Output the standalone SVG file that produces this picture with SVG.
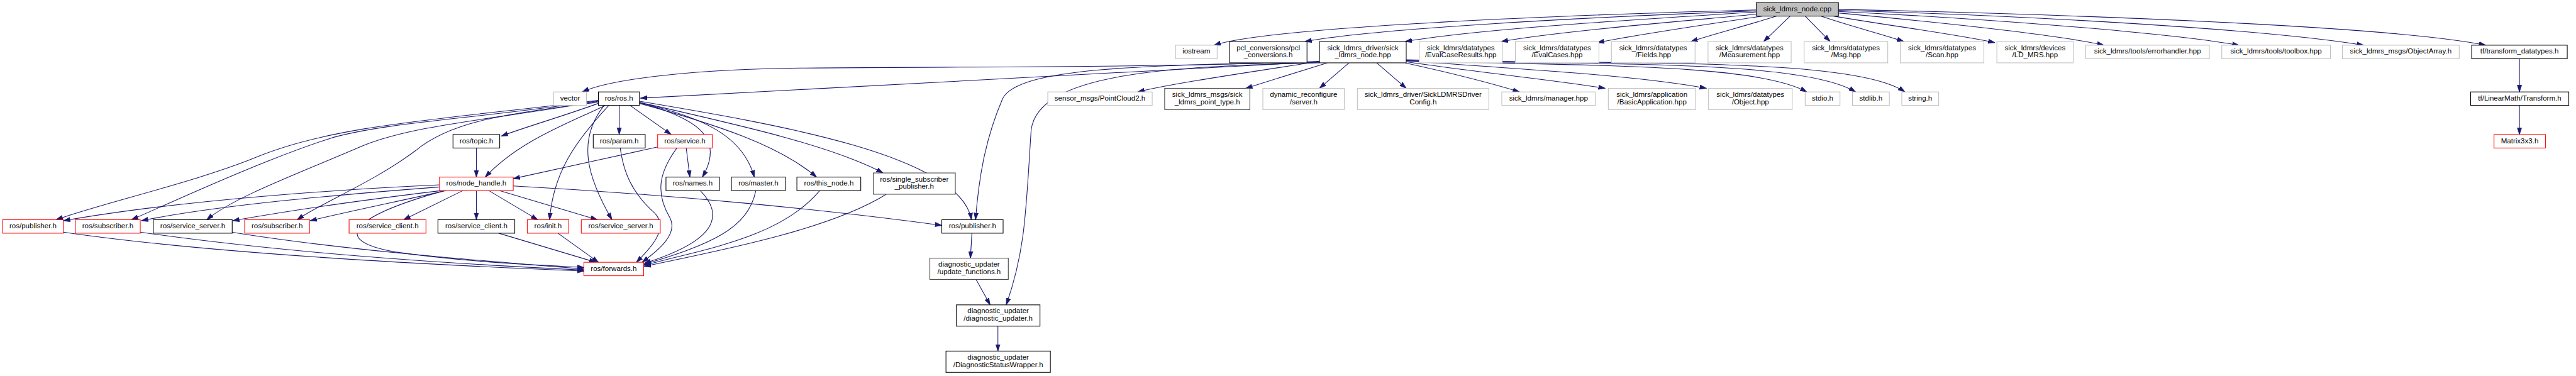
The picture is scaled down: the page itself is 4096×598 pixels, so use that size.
<svg xmlns="http://www.w3.org/2000/svg" width="4096" height="598" viewBox="0 0 4096 598">
<style>
.n rect{fill:#fff;stroke-width:1.3}
.k rect{stroke:#000}
.g rect{stroke:#bfbfbf}
.r rect{stroke:#ff0000}
.d rect{stroke:#404040}
.root rect{fill:#bfbfbf;stroke:#000}
text{font-family:"Liberation Sans",Arial,Helvetica,sans-serif;font-size:14px;text-anchor:middle;fill:#000}
#edges path{fill:none;stroke:#191970;stroke-width:1.3;marker-end:url(#a)}
</style>
<defs>
<marker id="a" markerWidth="14" markerHeight="10" refX="13" refY="5" orient="auto" markerUnits="userSpaceOnUse">
<path d="M0,0.8 L13,5 L0,9.2 z" fill="#191970" stroke="#191970" stroke-width="1"/>
</marker>
</defs>
<rect x="0" y="0" width="4096" height="598" fill="#fff"/>
<g transform="scale(0.826)">
<g id="edges">
<path d="M3381,19 C3050,28 2450,50 2337,87"/>
<path d="M3381,21 C3050,33 2650,55 2512,80"/>
<path d="M3381,23 C3150,38 2850,55 2705,80"/>
<path d="M3385,27 C3250,40 3000,60 2890,80"/>
<path d="M3392,31 C3300,45 3160,65 3075,82"/>
<path d="M3420,31 C3360,50 3300,65 3255,80"/>
<path d="M3446,31 L3395,80"/>
<path d="M3475,31 L3523,80"/>
<path d="M3505,31 C3560,50 3620,65 3665,80"/>
<path d="M3530,31 C3640,50 3760,65 3840,82"/>
<path d="M3539,25 C3700,40 3950,65 4050,87"/>
<path d="M3539,22 C3800,35 4150,60 4310,87"/>
<path d="M3539,20 C3900,30 4350,55 4550,87"/>
<path d="M3539,18 C4000,28 4600,50 4785,87"/>
<path d="M2540,118 C2400,140 2260,160 2190,177"/>
<path d="M2555,121 L2398,170"/>
<path d="M2597,121 L2540,170"/>
<path d="M2650,121 L2707,170"/>
<path d="M2705,121 C2790,140 2870,160 2925,177"/>
<path d="M2707,119 C2850,140 3000,155 3090,170"/>
<path d="M2707,117 C2950,135 3150,145 3285,170"/>
<path d="M2707,117 C3050,127 3380,122 3478,177"/>
<path d="M2707,116 C3100,126 3470,115 3572,177"/>
<path d="M2707,115 C3150,125 3570,110 3667,177"/>
<path d="M2540,118 C2250,130 1900,128 1550,131 C1350,133 1180,150 1121,177"/>
<path d="M2540,119 L1233,189"/>
<path d="M2540,120 C2200,125 1960,130 1930,190 C1900,260 1885,330 1878,423"/>
<path d="M2540,121 C2250,128 2000,140 1985,250 C1975,400 1975,480 1937,587"/>
<path d="M1152,199 C1080,225 1010,245 965,262"/>
<path d="M1165,203 C1100,235 1000,270 934,341"/>
<path d="M1192,203 L1192,259"/>
<path d="M1213,203 L1292,259"/>
<path d="M1231,197 C1330,225 1400,260 1352,341"/>
<path d="M1231,198 C1350,225 1430,260 1452,341"/>
<path d="M1231,199 C1380,240 1500,280 1572,341"/>
<path d="M1231,197 C1420,240 1600,280 1700,333"/>
<path d="M1231,195 C1500,240 1850,300 1870,423"/>
<path d="M1172,203 C1110,270 1065,330 1058,423"/>
<path d="M1163,203 C1110,270 1130,340 1178,423"/>
<path d="M1152,193 C850,230 650,240 500,300 C380,350 200,390 108,423"/>
<path d="M1152,194 C900,230 750,235 640,265 C500,310 330,390 253,423"/>
<path d="M1152,195 C950,230 800,240 700,280 C560,340 450,380 398,423"/>
<path d="M1152,197 C950,220 860,240 800,290 C720,350 620,390 572,423"/>
<path d="M1266,283 L988,344"/>
<path d="M1321,285 L1328,341"/>
<path d="M1303,285 C1270,330 1260,370 1290,420 C1305,450 1270,480 1236,505"/>
<path d="M1194,285 C1200,330 1215,370 1260,410 C1290,440 1250,480 1225,505"/>
<path d="M1348,367 C1390,410 1390,460 1240,507"/>
<path d="M1455,367 C1440,440 1370,470 1240,509"/>
<path d="M1578,367 C1500,460 1350,480 1240,511"/>
<path d="M1706,374 C1600,440 1400,480 1240,513"/>
<path d="M917,285 L917,341"/>
<path d="M846,356 C650,365 350,385 122,425"/>
<path d="M846,360 C650,375 420,395 272,425"/>
<path d="M850,367 C700,385 560,405 448,425"/>
<path d="M858,367 C780,385 680,405 597,425"/>
<path d="M891,367 L777,423"/>
<path d="M917,367 L917,423"/>
<path d="M941,367 L1035,423"/>
<path d="M962,367 L1150,423"/>
<path d="M856,367 C700,410 620,460 760,485 C900,505 1030,510 1124,515"/>
<path d="M988,358 C1300,375 1600,405 1813,434"/>
<path d="M122,447 C350,480 700,505 1124,522"/>
<path d="M270,447 C500,480 800,505 1124,520"/>
<path d="M446,447 C650,480 900,500 1124,518"/>
<path d="M960,449 L1147,505"/>
<path d="M1074,449 L1152,505"/>
<path d="M1871,449 L1868,497"/>
<path d="M1879,538 L1906,587"/>
<path d="M1921,628 L1921,676"/>
<path d="M4850,113 L4850,177"/>
<path d="M4850,203 L4850,259"/>
</g>
<g id="n0" class="n root"><rect x="3381" y="5" width="158" height="26"/><text x="3460" y="21.5">sick_ldmrs_node.cpp</text></g>
<g id="n_iostream" class="n g"><rect x="2263" y="87" width="80" height="26"/><text x="2303" y="103.5">iostream</text></g>
<g id="n_pcl" class="n k"><rect x="2367" y="80" width="149" height="41"/><text x="2441.5" y="96.5">pcl_conversions/pcl</text><text x="2441.5" y="110.5">_conversions.h</text></g>
<g id="n_nodehpp" class="n k"><rect x="2540" y="80" width="167" height="41"/><text x="2623.5" y="96.5">sick_ldmrs_driver/sick</text><text x="2623.5" y="110.5">_ldmrs_node.hpp</text></g>
<g id="n_ecr" class="n g"><rect x="2732" y="80" width="160" height="41"/><text x="2812" y="96.5">sick_ldmrs/datatypes</text><text x="2812" y="110.5">/EvalCaseResults.hpp</text></g>
<g id="n_ec" class="n g"><rect x="2917" y="80" width="161" height="41"/><text x="2997.5" y="96.5">sick_ldmrs/datatypes</text><text x="2997.5" y="110.5">/EvalCases.hpp</text></g>
<g id="n_fields" class="n g"><rect x="3102" y="80" width="161" height="41"/><text x="3182.5" y="96.5">sick_ldmrs/datatypes</text><text x="3182.5" y="110.5">/Fields.hpp</text></g>
<g id="n_meas" class="n g"><rect x="3288" y="80" width="160" height="41"/><text x="3368" y="96.5">sick_ldmrs/datatypes</text><text x="3368" y="110.5">/Measurement.hpp</text></g>
<g id="n_msg" class="n g"><rect x="3473" y="80" width="161" height="41"/><text x="3553.5" y="96.5">sick_ldmrs/datatypes</text><text x="3553.5" y="110.5">/Msg.hpp</text></g>
<g id="n_scan" class="n g"><rect x="3658" y="80" width="161" height="41"/><text x="3738.5" y="96.5">sick_ldmrs/datatypes</text><text x="3738.5" y="110.5">/Scan.hpp</text></g>
<g id="n_ldmrs" class="n g"><rect x="3844" y="80" width="147" height="41"/><text x="3917.5" y="96.5">sick_ldmrs/devices</text><text x="3917.5" y="110.5">/LD_MRS.hpp</text></g>
<g id="n_errh" class="n g"><rect x="4015" y="87" width="238" height="26"/><text x="4134" y="103.5">sick_ldmrs/tools/errorhandler.hpp</text></g>
<g id="n_toolbox" class="n g"><rect x="4277" y="87" width="209" height="26"/><text x="4381.5" y="103.5">sick_ldmrs/tools/toolbox.hpp</text></g>
<g id="n_objarr" class="n g"><rect x="4509" y="87" width="225" height="26"/><text x="4621.5" y="103.5">sick_ldmrs_msgs/ObjectArray.h</text></g>
<g id="n_tfdt" class="n k"><rect x="4758" y="87" width="184" height="26"/><text x="4850" y="103.5">tf/transform_datatypes.h</text></g>
<g id="n_vector" class="n g"><rect x="1066" y="177" width="63" height="26"/><text x="1097.5" y="193.5">vector</text></g>
<g id="n_rosh" class="n k"><rect x="1152" y="177" width="79" height="26"/><text x="1191.5" y="193.5">ros/ros.h</text></g>
<g id="n_pc2" class="n g"><rect x="2017" y="177" width="201" height="26"/><text x="2117.5" y="193.5">sensor_msgs/PointCloud2.h</text></g>
<g id="n_ptype" class="n d"><rect x="2242" y="170" width="164" height="41"/><text x="2324" y="186.5">sick_ldmrs_msgs/sick</text><text x="2324" y="200.5">_ldmrs_point_type.h</text></g>
<g id="n_dyn" class="n g"><rect x="2431" y="170" width="157" height="41"/><text x="2509.5" y="186.5">dynamic_reconfigure</text><text x="2509.5" y="200.5">/server.h</text></g>
<g id="n_cfg" class="n g"><rect x="2613" y="170" width="253" height="41"/><text x="2739.5" y="186.5">sick_ldmrs_driver/SickLDMRSDriver</text><text x="2739.5" y="200.5">Config.h</text></g>
<g id="n_mgr" class="n g"><rect x="2891" y="177" width="180" height="26"/><text x="2981" y="193.5">sick_ldmrs/manager.hpp</text></g>
<g id="n_basic" class="n g"><rect x="3096" y="170" width="168" height="41"/><text x="3180" y="186.5">sick_ldmrs/application</text><text x="3180" y="200.5">/BasicApplication.hpp</text></g>
<g id="n_obj" class="n g"><rect x="3289" y="170" width="161" height="41"/><text x="3369.5" y="186.5">sick_ldmrs/datatypes</text><text x="3369.5" y="200.5">/Object.hpp</text></g>
<g id="n_stdio" class="n g"><rect x="3475" y="177" width="67" height="26"/><text x="3508.5" y="193.5">stdio.h</text></g>
<g id="n_stdlib" class="n g"><rect x="3566" y="177" width="71" height="26"/><text x="3601.5" y="193.5">stdlib.h</text></g>
<g id="n_string" class="n g"><rect x="3661" y="177" width="71" height="26"/><text x="3696.5" y="193.5">string.h</text></g>
<g id="n_lmt" class="n k"><rect x="4756" y="177" width="189" height="26"/><text x="4850.5" y="193.5">tf/LinearMath/Transform.h</text></g>
<g id="n_topic" class="n k"><rect x="872" y="259" width="90" height="26"/><text x="917" y="275.5">ros/topic.h</text></g>
<g id="n_param" class="n k"><rect x="1142" y="259" width="100" height="26"/><text x="1192" y="275.5">ros/param.h</text></g>
<g id="n_service" class="n r"><rect x="1266" y="259" width="105" height="26"/><text x="1318.5" y="275.5">ros/service.h</text></g>
<g id="n_m3" class="n r"><rect x="4801" y="259" width="99" height="26"/><text x="4850.5" y="275.5">Matrix3x3.h</text></g>
<g id="n_nh" class="n r"><rect x="846" y="341" width="142" height="26"/><text x="917" y="357.5">ros/node_handle.h</text></g>
<g id="n_names" class="n k"><rect x="1282" y="341" width="103" height="26"/><text x="1333.5" y="357.5">ros/names.h</text></g>
<g id="n_master" class="n k"><rect x="1408" y="341" width="104" height="26"/><text x="1460" y="357.5">ros/master.h</text></g>
<g id="n_thisnode" class="n k"><rect x="1534" y="341" width="123" height="26"/><text x="1595.5" y="357.5">ros/this_node.h</text></g>
<g id="n_ssp" class="n d"><rect x="1681" y="333" width="158" height="41"/><text x="1760" y="349.5">ros/single_subscriber</text><text x="1760" y="363.5">_publisher.h</text></g>
<g id="n_pubr" class="n r"><rect x="5" y="423" width="117" height="26"/><text x="63.5" y="439.5">ros/publisher.h</text></g>
<g id="n_sub1" class="n r"><rect x="145" y="423" width="125" height="26"/><text x="207.5" y="439.5">ros/subscriber.h</text></g>
<g id="n_ssb" class="n k"><rect x="295" y="423" width="152" height="26"/><text x="371" y="439.5">ros/service_server.h</text></g>
<g id="n_sub2" class="n r"><rect x="471" y="423" width="125" height="26"/><text x="533.5" y="439.5">ros/subscriber.h</text></g>
<g id="n_scr" class="n r"><rect x="672" y="423" width="148" height="26"/><text x="746" y="439.5">ros/service_client.h</text></g>
<g id="n_scb" class="n k"><rect x="843" y="423" width="148" height="26"/><text x="917" y="439.5">ros/service_client.h</text></g>
<g id="n_init" class="n r"><rect x="1015" y="423" width="80" height="26"/><text x="1055" y="439.5">ros/init.h</text></g>
<g id="n_ssr" class="n r"><rect x="1119" y="423" width="152" height="26"/><text x="1195" y="439.5">ros/service_server.h</text></g>
<g id="n_pubb" class="n k"><rect x="1813" y="423" width="118" height="26"/><text x="1872" y="439.5">ros/publisher.h</text></g>
<g id="n_fwd" class="n r"><rect x="1124" y="505" width="115" height="26"/><text x="1181.5" y="521.5">ros/forwards.h</text></g>
<g id="n_uf" class="n d"><rect x="1790" y="497" width="151" height="41"/><text x="1865.5" y="513.5">diagnostic_updater</text><text x="1865.5" y="527.5">/update_functions.h</text></g>
<g id="n_du" class="n k"><rect x="1841" y="587" width="161" height="41"/><text x="1921.5" y="603.5">diagnostic_updater</text><text x="1921.5" y="617.5">/diagnostic_updater.h</text></g>
<g id="n_dsw" class="n k"><rect x="1821" y="676" width="201" height="41"/><text x="1921.5" y="692.5">diagnostic_updater</text><text x="1921.5" y="706.5">/DiagnosticStatusWrapper.h</text></g>
</g>
</svg>
